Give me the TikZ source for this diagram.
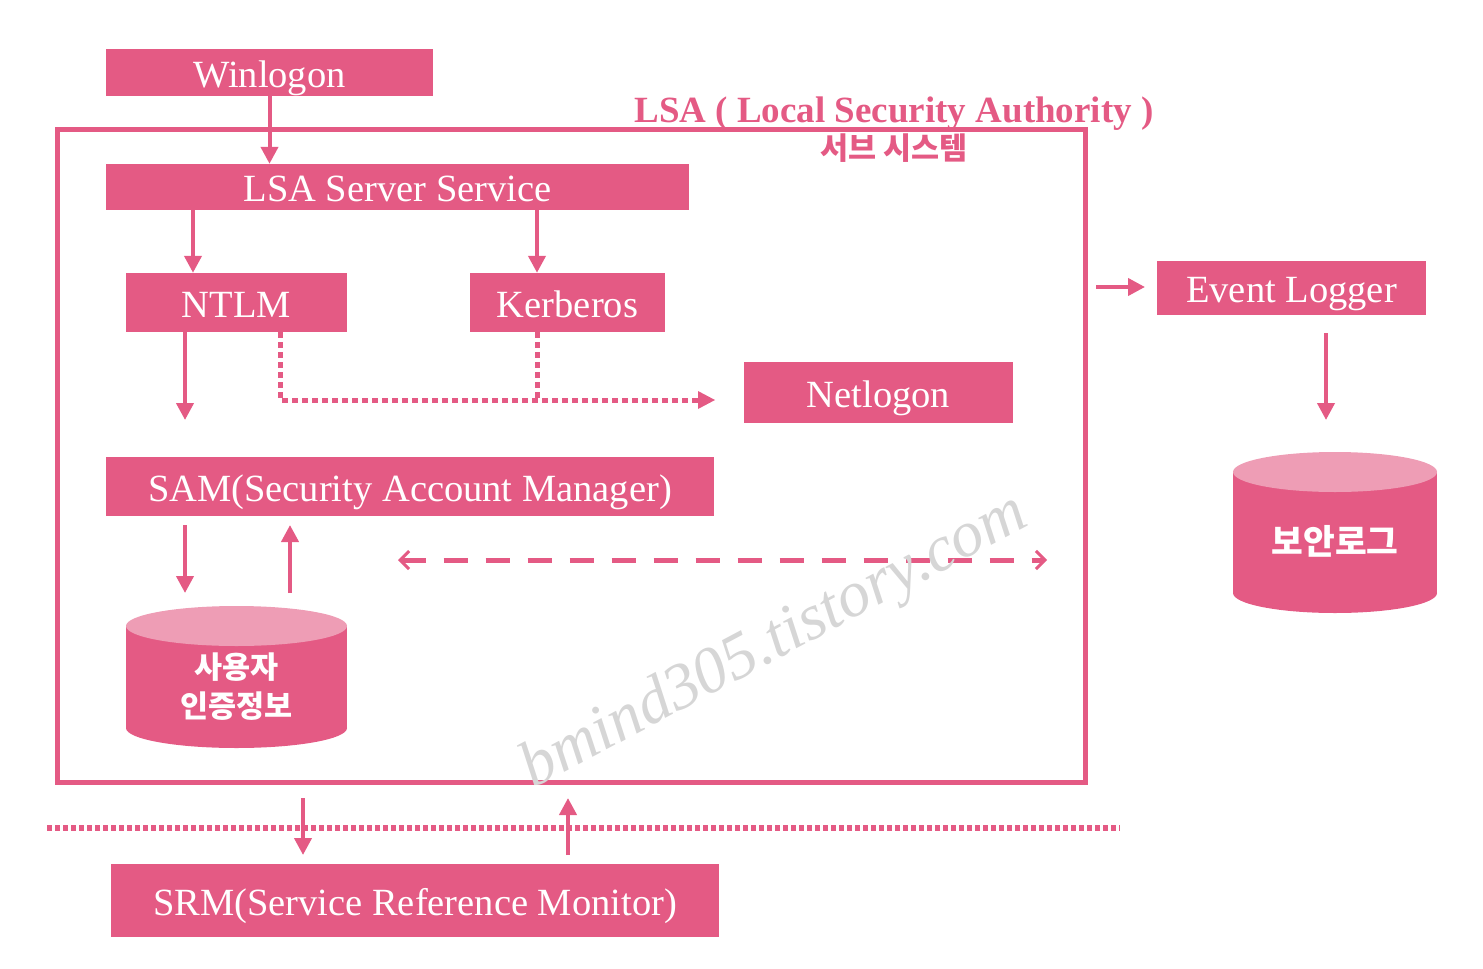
\documentclass[tikz,border=0pt]{standalone}
\usepackage{fontspec}
\setmainfont{Liberation Serif}
\newfontfamily\kr{Noto Sans CJK KR}
\usetikzlibrary{arrows.meta}
\definecolor{pk}{HTML}{E45A84}
\definecolor{pkl}{HTML}{EE9DB5}
\definecolor{wm}{HTML}{D6D6D6}
\begin{document}
\begin{tikzpicture}[x=1pt,y=-1pt,
  box/.style={fill=pk,text=white,inner sep=0pt,text height=32pt,text depth=3pt,font=\fontsize{38.5}{40}\selectfont},
  arr/.style={draw=pk,line width=4pt,-{Triangle[length=17pt,width=17pt]}},
  dotl/.style={draw=pk,line width=5pt,dash pattern=on 6pt off 4pt},
  dashl/.style={draw=pk,line width=5pt,dash pattern=on 24pt off 18pt},
  krtext/.style={text=white,font=\kr\bfseries\fontsize{30.5}{39}\selectfont,align=center}]
\useasboundingbox (0,0) rectangle (1483,969);

% LSA frame
\node[draw=pk,line width=5pt,minimum width=1028pt,minimum height=653pt,inner sep=0pt] (lsa) at (571,455.5) {};
\node[text=pk,font=\bfseries\fontsize{37}{40}\selectfont] (title) at (894,114) {LSA ( Local Security Authority )};
\node[text=pk,font=\kr\bfseries\fontsize{30.5}{32}\selectfont] (sub) at (894,148) {서브 시스템};

% boxes
\node[box,minimum width=327pt,minimum height=47pt] (win) at (269.5,72.5) {Winlogon};
\node[box,minimum width=583pt,minimum height=46pt] (lsrv) at (397.5,187) {LSA Server Service};
\node[box,minimum width=221pt,minimum height=59pt] (ntlm) at (236.5,302.5) {NTLM};
\node[box,minimum width=195pt,minimum height=59pt] (kerb) at (567.5,302.5) {Kerberos};
\node[box,minimum width=269pt,minimum height=61pt] (netl) at (878.5,392.5) {Netlogon};
\node[box,minimum width=608pt,minimum height=59pt] (sam) at (410,486.5) {SAM(Security Account Manager)};
\node[box,minimum width=608pt,minimum height=73pt] (srm) at (415,900.5) {SRM(Service Reference Monitor)};
\node[box,minimum width=269pt,minimum height=54pt] (evl) at (1291.5,288) {Event Logger};

% cylinder 1
\fill[pk] (126,626) rectangle (347,728);
\fill[pk] (236.5,728) ellipse [x radius=110.5, y radius=20];
\fill[pkl] (236.5,626) ellipse [x radius=110.5, y radius=20];
\node[krtext] (db1) at (236.5,687) {사용자\\인증정보};

% cylinder 2
\fill[pk] (1233,472) rectangle (1437,593);
\fill[pk] (1335,593) ellipse [x radius=102, y radius=20];
\fill[pkl] (1335,472) ellipse [x radius=102, y radius=20];
\node[krtext,font=\kr\bfseries\fontsize{34.5}{39}\selectfont] (db2) at (1335,541) {보안로그};

% coordinates
\coordinate (a1) at ([xshift=-43.5pt]ntlm.north);
\coordinate (a2) at ([xshift=-30.5pt]kerb.north);
\coordinate (n1) at (185,420);
\coordinate (d1) at (280,400);
\coordinate (d2) at (698,400);
\coordinate (d3) at (537,400);
\coordinate (s1) at (185,525);
\coordinate (s2) at (185,593);
\coordinate (s3) at (290,593);
\coordinate (s4) at (290,525);
\coordinate (h1) at (398,560);
\coordinate (h2) at (1047,560);
\coordinate (r1) at (303,798);
\coordinate (r2) at (303,855);
\coordinate (r3) at (568,855);
\coordinate (r4) at (568,798);
\coordinate (b1) at (47,828);
\coordinate (b2) at (1120,828);
\coordinate (e1) at (1096,287);
\coordinate (e2) at (1145,287);
\coordinate (e3) at (1326,333);
\coordinate (e4) at (1326,420);

% connectors
\draw[arr] (win.south) -- (win.south |- lsrv.north);
\draw[arr] (lsrv.south -| a1) -- (a1);
\draw[arr] (lsrv.south -| a2) -- (a2);
\draw[arr] (ntlm.south -| n1) -- (n1);
\draw[dotl] (ntlm.south -| d1) -- (d1) -- (d2);
\draw[draw=none,fill=pk] (d2) ++(0,-9) -- ++(17,9) -- ++(-17,9) -- cycle;
\draw[dotl] (kerb.south -| d3) -- (d3);
\draw[arr] (s1) -- (s2);
\draw[arr] (s3) -- (s4);
\draw[dashl,{Straight Barb[length=9pt,width=18pt,line width=3pt]}-{Straight Barb[length=9pt,width=18pt,line width=3pt]}] (h1) -- (h2);
\draw[draw=pk,line width=6pt,dash pattern=on 5pt off 3pt] (b1) -- (b2);
\draw[arr] (r1) -- (r2);
\draw[arr] (r3) -- (r4);
\draw[arr] (e1) -- (e2);
\draw[arr] (e3) -- (e4);

% watermark
\node[text=wm,font=\itshape\fontsize{65}{65}\selectfont,rotate=28] (wmk) at (775,643) {bmind305.tistory.com};
\end{tikzpicture}
\end{document}
